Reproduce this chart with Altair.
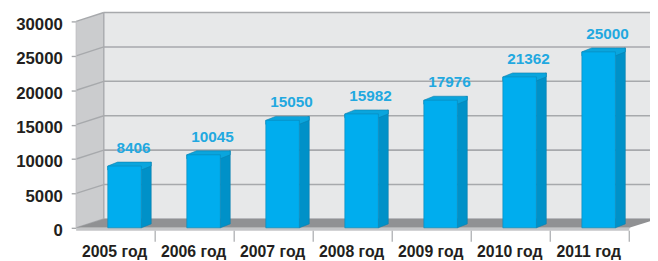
import altair as alt
import pandas as pd

# ---- data ----
years = ["2005 год", "2006 год", "2007 год", "2008 год", "2009 год", "2010 год", "2011 год"]
values = [8406, 10045, 15050, 15982, 17976, 21362, 25000]
y_ticks = [0, 5000, 10000, 15000, 20000, 25000, 30000]

# ---- geometry (pixels -> data units) ----
W, H = 560, 209
N = len(years)
Y_MAX = 30000
PX_X = W / N
PX_Y = H / Y_MAX
DEPTH_X, DEPTH_Y = 28 / PX_X, 9 / PX_Y      # depth of the 3-D box
BAR_DX, BAR_DY = 10 / PX_X, 4 / PX_Y        # depth of each bar
BAR_L, BAR_R = -8 / PX_X, 26 / PX_X         # front face relative to band centre

FONT = "Liberation Sans"
DARK = "#231F20"
BLUE_LABEL = "#22A8E0"

bars = pd.DataFrame({"year": years, "value": values})
bars["c"] = [i + 0.5 for i in range(N)]
bars["xl"] = bars["c"] + BAR_L
bars["xr"] = bars["c"] + BAR_R
bars["lx"] = bars["c"] + 18 / PX_X

side_rows, top_rows = [], []
for _, r in bars.iterrows():
    v = r["value"]
    side_rows += [
        {"id": r["year"], "x": r["xr"], "top": v, "bot": 0},
        {"id": r["year"], "x": r["xr"] + BAR_DX, "top": v + BAR_DY, "bot": BAR_DY},
    ]
    top_rows += [
        {"id": r["year"], "x": r["xl"], "top": v, "bot": v},
        {"id": r["year"], "x": r["xl"] + BAR_DX, "top": v + BAR_DY, "bot": v},
        {"id": r["year"], "x": r["xr"], "top": v + BAR_DY, "bot": v},
        {"id": r["year"], "x": r["xr"] + BAR_DX, "top": v + BAR_DY, "bot": v + BAR_DY},
    ]
side_df = pd.DataFrame(side_rows)
top_df = pd.DataFrame(top_rows)

xs = alt.Scale(domain=[0, N], nice=False, zero=False)
ys = alt.Scale(domain=[0, Y_MAX], nice=False)

y_axis = alt.Axis(values=y_ticks, format="d", domain=False, grid=False, title=None,
                  ticks=True, tickSize=5, tickColor="#A7A9AC", tickWidth=1.4,
                  labelPadding=9, labelOffset=3, labelFont=FONT,
                  labelFontSize=17, labelFontWeight="bold", labelColor=DARK)

def X(f):
    return alt.X(f"{f}:Q", scale=xs, axis=None)

def Y(f):
    return alt.Y(f"{f}:Q", scale=ys, axis=y_axis, title=None)

# back wall
back_df = pd.DataFrame([{"x": DEPTH_X, "x2": N + DEPTH_X, "y": DEPTH_Y, "y2": Y_MAX + DEPTH_Y}])
back = alt.Chart(back_df).mark_rect(color="#E7E8E9").encode(
    x=X("x"), x2="x2:Q", y=Y("y"), y2="y2:Q")

grid_df = pd.DataFrame({"t": y_ticks})
grid_df["tb"] = grid_df["t"] + DEPTH_Y
grid_df["x"] = DEPTH_X
grid_df["x2"] = N + DEPTH_X
grid_df["x0"] = 0.0
grid_df["xd"] = DEPTH_X

back_grid = alt.Chart(grid_df).mark_rule(color="#A7A9AC", strokeWidth=1.6).encode(
    x=X("x"), x2="x2:Q", y=Y("tb"))

# left wall
left_df = pd.DataFrame([
    {"x": 0.0, "top": Y_MAX, "bot": 0.0},
    {"x": DEPTH_X, "top": Y_MAX + DEPTH_Y, "bot": DEPTH_Y},
])
left = alt.Chart(left_df).mark_area(color="#CBCCCE", orient="vertical").encode(
    x=X("x"), y=Y("top"), y2="bot:Q")

left_grid = alt.Chart(grid_df).mark_rule(color="#A7A9AC", strokeWidth=1.4).encode(
    x=X("x0"), x2="xd:Q", y=Y("t"), y2="tb:Q")

corner_df = pd.DataFrame([{"x": DEPTH_X, "y": DEPTH_Y, "y2": Y_MAX + DEPTH_Y,
                           "x0": 0.0, "y0": 0.0, "y1": Y_MAX}])
corner = alt.Chart(corner_df).mark_rule(color="#A7A9AC", strokeWidth=1.4).encode(
    x=X("x"), y=Y("y"), y2="y2:Q")
front_edge = alt.Chart(corner_df).mark_rule(color="#BFC0C2", strokeWidth=1).encode(
    x=X("x0"), y=Y("y0"), y2="y1:Q")

# floor
floor_df = pd.DataFrame([
    {"x": 0.0, "top": 0.0, "bot": 0.0},
    {"x": DEPTH_X, "top": DEPTH_Y, "bot": 0.0},
    {"x": float(N), "top": DEPTH_Y, "bot": 0.0},
    {"x": N + DEPTH_X, "top": DEPTH_Y, "bot": DEPTH_Y},
])
floor = alt.Chart(floor_df).mark_area(color="#909193", orient="vertical").encode(
    x=X("x"), y=Y("top"), y2="bot:Q")

edge_df = pd.DataFrame([{"x": 0.0, "x2": float(N), "y": 0.0}])
floor_edge = alt.Chart(edge_df).mark_rect(color="#C4C5C7", yOffset=0, y2Offset=3).encode(
    x=X("x"), x2="x2:Q", y=Y("y"), y2="y:Q")

# x ticks at band edges
xt_df = pd.DataFrame({"k": [float(k) for k in range(1, N + 1)], "y": 0.0})
xticks = alt.Chart(xt_df).mark_rule(color="#A7A9AC", strokeWidth=1.2, yOffset=3, y2Offset=14).encode(
    x=X("k"), y=Y("y"), y2="y:Q")

# bars
side = alt.Chart(side_df).mark_area(color="#0091C8", orient="vertical", yOffset=-4,
                                    stroke="#0A7FAE", strokeWidth=0.6).encode(
    x=X("x"), y=Y("top"), y2="bot:Q", detail="id:N")
topf = alt.Chart(top_df).mark_area(color="#0AA5DD", orient="vertical", yOffset=-4,
                                   stroke="#0A7FAE", strokeWidth=0.6).encode(
    x=X("x"), y=Y("top"), y2="bot:Q", detail="id:N")
front = alt.Chart(bars).mark_rect(color="#00ADEE", yOffset=-4, y2Offset=-1,
                                  stroke="#0A86B6", strokeWidth=0.6).encode(
    x=X("xl"), x2="xr:Q", y=Y("value"))

vlabels = alt.Chart(bars).mark_text(font=FONT, fontSize=15.5, fontWeight="bold",
                                    color=BLUE_LABEL, dy=-22, baseline="middle").encode(
    x=X("lx"), y=Y("value"), text=alt.Text("value:Q", format="d"))

bars["y0"] = 0.0
ylabels = alt.Chart(bars).mark_text(font=FONT, fontSize=16, fontWeight="bold",
                                    color=DARK, dy=25, dx=-1, baseline="middle").encode(
    x=X("c"), y=Y("y0"), text="year:N")

chart = alt.layer(
    back, back_grid, left, left_grid, corner, front_edge, floor, floor_edge, xticks,
    side, topf, front, vlabels, ylabels
).properties(
    width=W, height=H,
    padding={"left": 69, "top": 12, "right": 21, "bottom": 32},
    autosize=alt.AutoSizeParams(type="none"),
).configure_view(stroke=None).configure(background="white")

chart.save("out.html", embed_options={"renderer": "svg", "actions": False})
